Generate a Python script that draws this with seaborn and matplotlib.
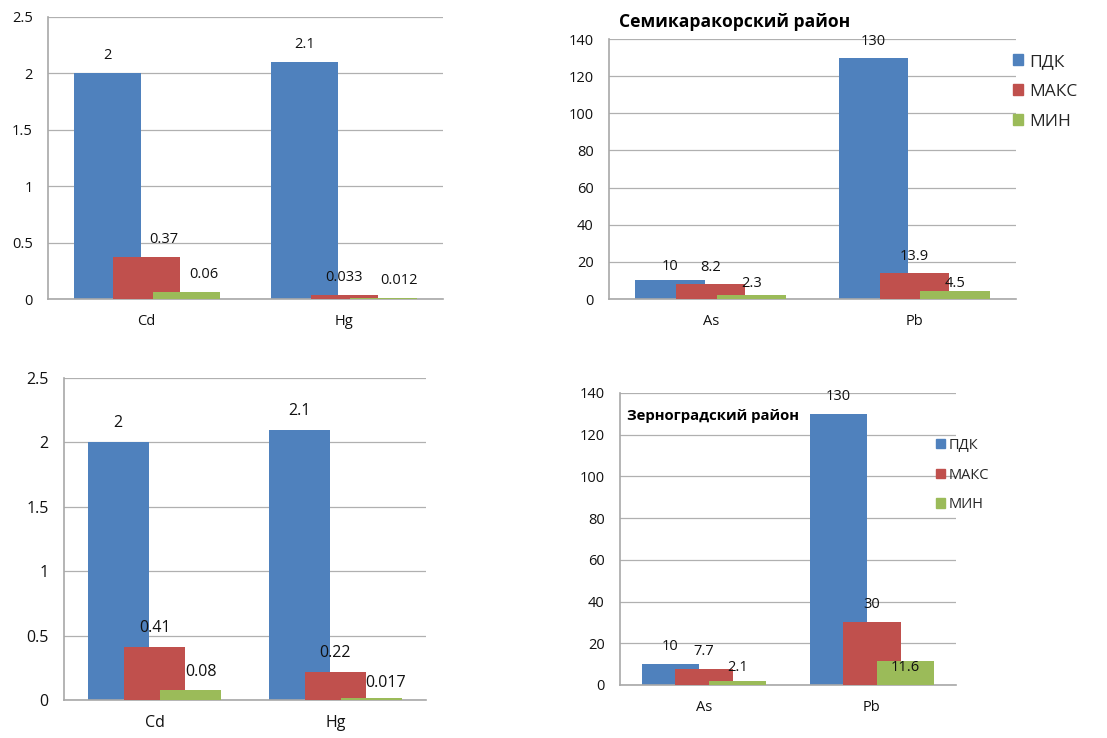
import matplotlib
matplotlib.use("Agg")
import matplotlib.pyplot as plt
import numpy as np
import pandas as pd
import seaborn as sns

sns.set_theme(style="white")
plt.rcParams['font.family'] = ['Open Sans', 'DejaVu Sans']

# series names and colours (Excel 2007 palette)
series = ["ПДК", "МАКС", "МИН"]
colors = ["#4F81BD", "#C0504D", "#9BBB59"]

# top-left panel
cats_1 = ["Cd", "Hg"]
pdk_1 = [2, 2.1]
max_1 = [0.37, 0.033]
min_1 = [0.06, 0.012]

# top-right panel: Семикаракорский район
cats_2 = ["As", "Pb"]
pdk_2 = [10, 130]
max_2 = [8.2, 13.9]
min_2 = [2.3, 4.5]

# bottom-left panel
cats_3 = ["Cd", "Hg"]
pdk_3 = [2, 2.1]
max_3 = [0.41, 0.22]
min_3 = [0.08, 0.017]

# bottom-right panel: Зерноградский район
cats_4 = ["As", "Pb"]
pdk_4 = [10, 130]
max_4 = [7.7, 30]
min_4 = [2.1, 11.6]

fig = plt.figure(figsize=(11.07, 7.38), dpi=100)
W, H = 1107, 738


def add_axes(left, top, right, bottom):
    # pixel box -> figure fraction
    return fig.add_axes([left / W, 1 - bottom / H, (right - left) / W, (bottom - top) / H])


def draw_panel(ax, cats, vals, ymax, ystep, fs, gap_px, nudges, fmt="%g"):
    pos = np.arange(len(cats))
    for i, (name, v) in enumerate(zip(series, vals)):
        df = pd.DataFrame({"x": pos + (i - 1) * 0.2, "y": v})
        sns.barplot(data=df, x="x", y="y", native_scale=True, width=0.34,
                    color=colors[i], saturation=1, errorbar=None, ax=ax,
                    label=name, zorder=2 + i, linewidth=0)
    # data labels
    k = 0
    for i, v in enumerate(vals):
        for j, val in enumerate(v):
            dx, dy = nudges[k]
            k += 1
            ax.annotate(fmt % val, (pos[j] + (i - 1) * 0.2, val),
                        xytext=((dx) * 0.72, (gap_px + dy) * 0.72),
                        textcoords="offset points", ha="center", va="bottom",
                        fontsize=fs, color="#111111", zorder=10)
    ax.set_xlim(-0.5, len(cats) - 0.5)
    ax.set_ylim(0, ymax)
    ax.set_yticks(np.arange(0, ymax + ystep / 2, ystep))
    ax.yaxis.set_major_formatter(matplotlib.ticker.FormatStrFormatter("%g"))
    ax.set_xticks(pos)
    ax.set_xticklabels(cats)
    ax.set_xlabel("")
    ax.set_ylabel("")
    ax.grid(axis="y", color="#b0b0b0", linewidth=0.9)
    ax.set_axisbelow(True)
    for s in ["top", "right"]:
        ax.spines[s].set_visible(False)
    for s in ["left", "bottom"]:
        ax.spines[s].set_color("#a8a8a8")
        ax.spines[s].set_linewidth(1.2)
    ax.tick_params(axis="y", length=0, pad=11, labelsize=fs, labelcolor="#111111")
    ax.tick_params(axis="x", length=0, pad=11, labelsize=fs, labelcolor="#111111")
    if ax.get_legend() is not None:
        ax.get_legend().remove()


# label nudges in pixels (dx, dy): order blue Cd/As, blue Hg/Pb, red..., green...
nud_1 = [(0, 0), (0, 0), (17, 0), (0, 0), (18, 0), (15, 0)]
nud_2 = [(0, -3), (0, 0), (0, 0), (0, 0), (0, -5), (0, -9)]
nud_3 = [(0, 0), (0, 0), (0, 0), (0, 0), (10, -1), (14, -4)]
nud_4 = [(0, 0), (0, 0), (0, 0), (0, 0), (0, -4), (0, -24)]

ax1 = add_axes(48, 17, 443, 299)
draw_panel(ax1, cats_1, [pdk_1, max_1, min_1], 2.5, 0.5, 10.5, 10, nud_1)

ax2 = add_axes(609, 39, 1016, 299)
draw_panel(ax2, cats_2, [pdk_2, max_2, min_2], 140, 20, 10.5, 9, nud_2)

ax3 = add_axes(64, 378, 426, 700)
draw_panel(ax3, cats_3, [pdk_3, max_3, min_3], 2.5, 0.5, 11.5, 11, nud_3)

ax4 = add_axes(620, 393, 956, 685)
draw_panel(ax4, cats_4, [pdk_4, max_4, min_4], 140, 20, 10.5, 10, nud_4)

# titles
fig.text(619 / W, 1 - 22 / H, "Семикаракорский район", fontsize=12.6,
         fontweight="bold", ha="left", va="center", color="#000000")
fig.text(627 / W, 1 - 416 / H, "Зерноградский район", fontsize=10.7,
         fontweight="bold", ha="left", va="center", color="#000000")

# legends
handles = [matplotlib.patches.Patch(color=c) for c in colors]
fig.legend(handles, series, loc="upper left", bbox_to_anchor=(1013 / W, 1 - 54 / H),
           frameon=False, fontsize=12.5, handlelength=0.6, handleheight=0.6,
           handletextpad=0.35, labelspacing=0.8, borderpad=0, borderaxespad=0)
fig.legend(handles, series, loc="upper left", bbox_to_anchor=(936 / W, 1 - 438 / H),
           frameon=False, fontsize=10.5, handlelength=0.6, handleheight=0.6,
           handletextpad=0.25, labelspacing=1.0, borderpad=0, borderaxespad=0)

plt.savefig("out.png", dpi=100)
